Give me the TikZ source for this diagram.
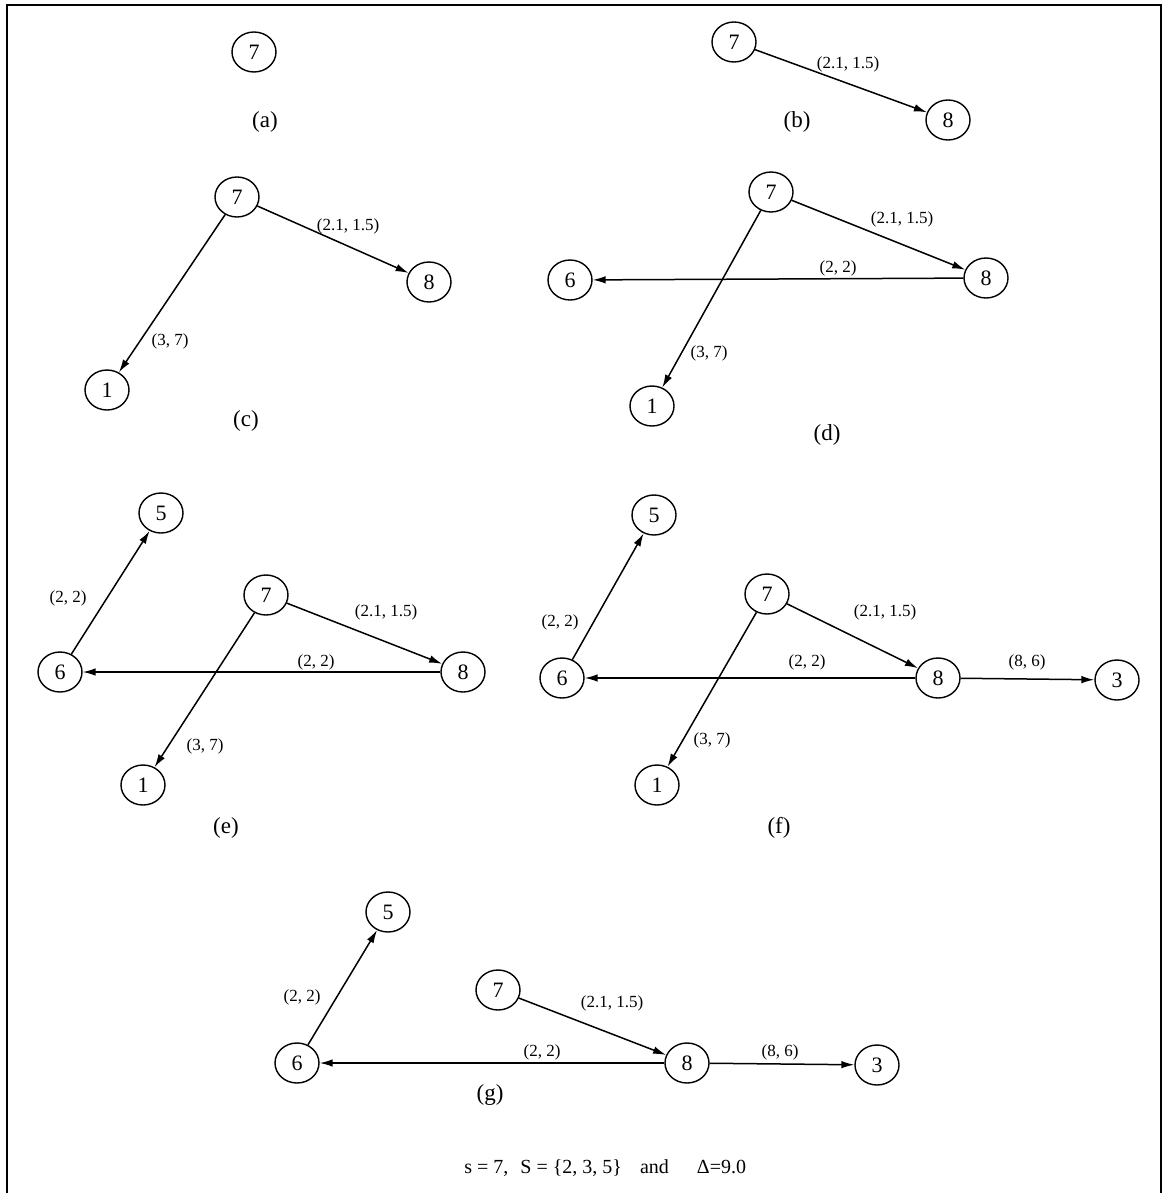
\documentclass[tikz,border=0pt]{standalone}
\usepackage{fontspec}
\setmainfont{Liberation Serif}
\usetikzlibrary{arrows.meta,shapes.geometric}
\tikzset{
  nd/.style={ellipse, draw, line width=0.7pt, minimum width=22pt, minimum height=20pt, inner sep=0pt, font=\fontsize{11}{11}\selectfont},
  lbl/.style={inner sep=0pt, font=\fontsize{8.5}{9}\selectfont},
  subcap/.style={inner sep=0pt, font=\fontsize{11.5}{12}\selectfont},
  edg/.style={-{Latex[length=6.5pt,width=3.8pt]}, line width=0.75pt},
  frame/.style={line width=0.9pt}
}
\begin{document}
\begin{tikzpicture}[x=0.5pt,y=-0.5pt]
\useasboundingbox (0,0) rectangle (1167,1193);
% frame
\coordinate (fbl) at (7,1193);
\coordinate (ftl) at (7,5);
\coordinate (ftr) at (1161,5);
\coordinate (fbr) at (1161,1193);
\draw[frame] (fbl) -- (ftl) -- (ftr) -- (fbr);

% (a)
\node[nd] (a7) at (254,52) {7};
\node[subcap] (capa) at (265,122) {(a)};

% (b)
\node[nd] (b7) at (734,42) {7};
\node[nd] (b8) at (948,120) {8};
\draw[edg] (b7) -- (b8);
\node[lbl] (lb78) at (848,64) {(2.1, 1.5)};
\node[subcap] (capb) at (797,122) {(b)};

% (c)
\node[nd] (c7) at (237,197) {7};
\node[nd] (c8) at (429,282) {8};
\node[nd] (c1) at (107,390) {1};
\draw[edg] (c7) -- (c8);
\draw[edg] (c7) -- (c1);
\node[lbl] (lc78) at (348,226) {(2.1, 1.5)};
\node[lbl] (lc71) at (170,341) {(3, 7)};
\node[subcap] (capc) at (246,421) {(c)};

% (d)
\node[nd] (d7) at (771,192) {7};
\node[nd] (d8) at (986,278) {8};
\node[nd] (d6) at (570,280) {6};
\node[nd] (d1) at (652,406) {1};
\draw[edg] (d7) -- (d8);
\draw[edg] (d7) -- (d1);
\draw[edg] (d8) -- (d6);
\node[lbl] (ld78) at (902,219) {(2.1, 1.5)};
\node[lbl] (ld86) at (838,268) {(2, 2)};
\node[lbl] (ld71) at (709,353) {(3, 7)};
\node[subcap] (capd) at (827,435) {(d)};

% (e)
\node[nd] (e5) at (161,513) {5};
\node[nd] (e7) at (266,595) {7};
\node[nd] (e8) at (463,672) {8};
\node[nd] (e6) at (60,672) {6};
\node[nd] (e1) at (143,785) {1};
\draw[edg] (e6) -- (e5);
\draw[edg] (e7) -- (e8);
\draw[edg] (e7) -- (e1);
\draw[edg] (e8) -- (e6);
\node[lbl] (le65) at (68,598) {(2, 2)};
\node[lbl] (le78) at (386,612) {(2.1, 1.5)};
\node[lbl] (le86) at (316,662) {(2, 2)};
\node[lbl] (le71) at (205,746) {(3, 7)};
\node[subcap] (cape) at (226,828) {(e)};

% (f)
\node[nd] (f5) at (654,515) {5};
\node[nd] (f7) at (767,594) {7};
\node[nd] (f8) at (938,678) {8};
\node[nd] (f6) at (562,678) {6};
\node[nd] (f3) at (1117,680) {3};
\node[nd] (f1) at (657,785) {1};
\draw[edg] (f6) -- (f5);
\draw[edg] (f7) -- (f8);
\draw[edg] (f7) -- (f1);
\draw[edg] (f8) -- (f6);
\draw[edg] (f8) -- (f3);
\node[lbl] (lf65) at (560,622) {(2, 2)};
\node[lbl] (lf78) at (885,612) {(2.1, 1.5)};
\node[lbl] (lf86) at (807,662) {(2, 2)};
\node[lbl] (lf83) at (1027,662) {(8, 6)};
\node[lbl] (lf71) at (712,740) {(3, 7)};
\node[subcap] (capf) at (779,828) {(f)};

% (g)
\node[nd] (g5) at (388,912) {5};
\node[nd] (g7) at (498,990) {7};
\node[nd] (g8) at (687,1063) {8};
\node[nd] (g6) at (297,1063) {6};
\node[nd] (g3) at (877,1065) {3};
\draw[edg] (g6) -- (g5);
\draw[edg] (g7) -- (g8);
\draw[edg] (g8) -- (g6);
\draw[edg] (g8) -- (g3);
\node[lbl] (lg65) at (302,997) {(2, 2)};
\node[lbl] (lg78) at (612,1003) {(2.1, 1.5)};
\node[lbl] (lg86) at (542,1052) {(2, 2)};
\node[lbl] (lg83) at (780,1052) {(8, 6)};
\node[subcap] (capg) at (490,1095) {(g)};

% bottom line
\node[inner sep=0pt, font=\fontsize{10}{11}\selectfont, anchor=west] (summary) at (464,1168) {s = 7,\hspace{0.6em}S = \{2, 3, 5\}\hspace{0.9em}and\hspace{1.4em}Δ=9.0};
\end{tikzpicture}
\end{document}
